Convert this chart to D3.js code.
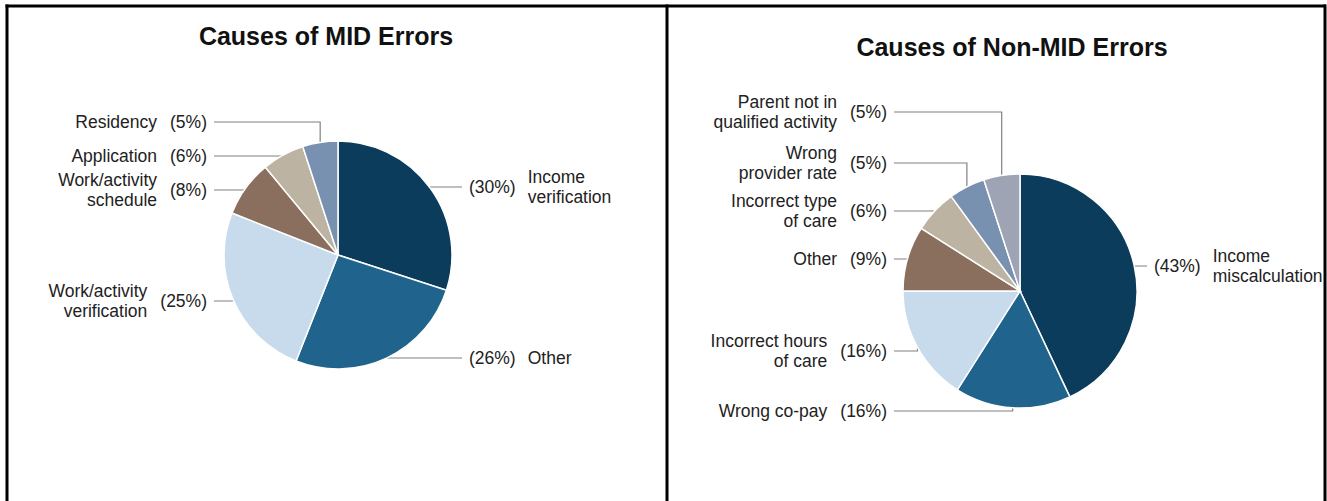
<!DOCTYPE html>
<html>
<head>
<meta charset="utf-8">
<script src="https://cdn.jsdelivr.net/npm/d3@7"></script>
<style>
  body { margin: 0; background: #fff; }
  text { font-family: "Liberation Sans", Arial, sans-serif; }
</style>
</head>
<body>
<div id="chart-area"></div>
<script>
// data
let midNames = ["Income\nverification", "Other", "Work/activity\nverification", "Work/activity\nschedule", "Application", "Residency"]
let midValues = [30, 26, 25, 8, 6, 5]
let nonMidNames = ["Income\nmiscalculation", "Wrong co-pay", "Incorrect hours\nof care", "Other", "Incorrect type\nof care", "Wrong\nprovider rate", "Parent not in\nqualified activity"]
let nonMidValues = [43, 16, 16, 9, 6, 5, 5]

let midColors = ["#0b3c5b", "#20648e", "#c7dbec", "#8a6e5e", "#bdb3a3", "#7891b0"]
let nonMidColors = ["#0b3c5b", "#20648e", "#c7dbec", "#8a6e5e", "#bdb3a3", "#7891b0", "#9ea4b3"]

let width = 1327
let height = 501

let svg = d3.select("#chart-area").append("svg")
  .attr("width", width)
  .attr("height", height)

function drawPie(cfg) {
  let data = cfg.names.map((name, i) => ({ name: name, value: cfg.values[i], color: cfg.colors[i], labelY: cfg.labelY[i] }))

  let g = svg.append("g")

  g.append("text")
    .attr("x", cfg.titleX)
    .attr("y", cfg.titleY)
    .attr("text-anchor", "middle")
    .attr("font-size", "25px")
    .attr("font-weight", "bold")
    .attr("fill", "#111")
    .text(cfg.title)

  let pie = d3.pie().sort(null).value(d => d.value)
  let arc = d3.arc().innerRadius(0).outerRadius(cfg.r)
  let arcs = pie(data)

  // leader lines (drawn first so the pie sits on top)
  arcs.forEach(d => {
    let mid = (d.startAngle + d.endAngle) / 2
    let ax = cfg.cx + cfg.r * Math.sin(mid)
    let ay = cfg.cy - cfg.r * Math.cos(mid)
    let ly = d.data.labelY
    let right = Math.sin(mid) > 0
    let path = right
      ? "M" + ax + "," + ay + "V" + ly + "H" + (cfg.pctLeft - 7)
      : "M" + (cfg.pctRight + 7) + "," + ly + "H" + ax + "V" + ay
    g.append("path")
      .attr("d", path)
      .attr("fill", "none")
      .attr("stroke", "#808080")
      .attr("stroke-width", 1.2)

    // percent
    let pct = g.append("text")
      .attr("y", ly)
      .attr("dominant-baseline", "central")
      .attr("font-size", "17.5px")
      .attr("fill", "#222")
      .text("(" + d.data.value + "%)")
    let pw = pct.node().getComputedTextLength()
    if (right) pct.attr("x", cfg.pctLeft).attr("text-anchor", "start")
    else pct.attr("x", cfg.pctRight).attr("text-anchor", "end")

    // name (one or two lines)
    let lines = d.data.name.split("\n")
    let nx = right ? cfg.pctLeft + pw + 12 : cfg.pctRight - pw - 13
    let name = g.append("text")
      .attr("font-size", "17.5px")
      .attr("fill", "#222")
      .attr("text-anchor", right ? "start" : "end")
    lines.forEach((line, k) => {
      name.append("tspan")
        .attr("x", nx)
        .attr("y", ly + (k - (lines.length - 1) / 2) * 19.5)
        .attr("dominant-baseline", "central")
        .text(line)
    })
  })

  g.append("g")
    .attr("transform", "translate(" + cfg.cx + "," + cfg.cy + ")")
    .selectAll("path")
    .data(arcs)
    .enter()
    .append("path")
      .attr("d", arc)
      .attr("fill", d => d.data.color)
      .attr("stroke", "#fff")
      .attr("stroke-width", 1.5)
}

drawPie({
  title: "Causes of MID Errors", titleX: 326, titleY: 45,
  names: midNames, values: midValues, colors: midColors,
  cx: 338, cy: 255, r: 114,
  pctRight: 207, pctLeft: 469,
  labelY: [187, 358, 301, 190, 156, 122]
})

drawPie({
  title: "Causes of Non-MID Errors", titleX: 1012, titleY: 56,
  names: nonMidNames, values: nonMidValues, colors: nonMidColors,
  cx: 1020, cy: 291, r: 117,
  pctRight: 887, pctLeft: 1154,
  labelY: [266, 411, 351, 259, 211, 163, 112]
})

// frame on top, it cuts the long label on the right edge
svg.append("rect")
  .attr("x", 1326.5).attr("y", 0).attr("width", 1).attr("height", height)
  .attr("fill", "#fff")
let frame = svg.append("g")
  .attr("stroke", "#000")
  .attr("stroke-width", 3)
frame.append("line").attr("x1", 5.5).attr("x2", 1326).attr("y1", 6).attr("y2", 6)
frame.append("line").attr("x1", 7).attr("x2", 7).attr("y1", 4.5).attr("y2", height)
frame.append("line").attr("x1", 667).attr("x2", 667).attr("y1", 4.5).attr("y2", height)
frame.append("line").attr("x1", 1325).attr("x2", 1325).attr("y1", 4.5).attr("y2", height)
</script>
</body>
</html>
